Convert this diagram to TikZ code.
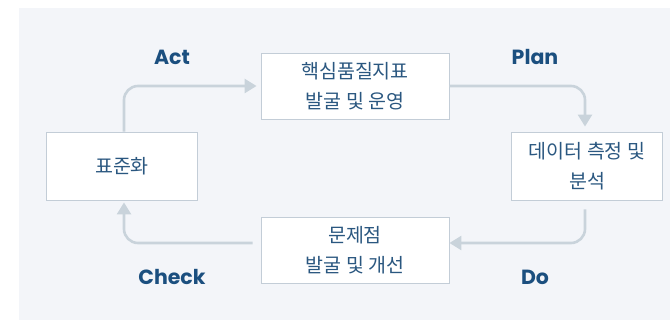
\documentclass[tikz,border=0pt]{standalone}
\usepackage{fontspec}
\usepackage{xcolor}
\usepackage{tikz}
\usetikzlibrary{arrows.meta,positioning}
\newfontfamily\kfont{Noto Sans CJK KR}
\newfontfamily\phasefont{Poppins}
\definecolor{bgcol}{HTML}{F3F5F9}
\definecolor{edgecol}{HTML}{C3CDD7}
\definecolor{arrowcol}{HTML}{C9D3DB}
\definecolor{textcol}{HTML}{2A5780}
\definecolor{phasecol}{HTML}{1B4F7F}

\begin{document}
\begin{tikzpicture}[
  x=1pt, y=-1pt,
  stage/.style={draw=edgecol, line width=0.9pt, fill=white, rectangle, align=center, inner sep=0pt, text=textcol, font=\kfont\fontsize{19.5}{30}\selectfont},
  arrow/.style={-{Triangle[length=12pt,width=14pt]}, draw=arrowcol, line width=2.6pt, rounded corners=14pt},
  phase/.style={text=phasecol, font=\phasefont\bfseries\fontsize{20.5}{24}\selectfont}
]
\useasboundingbox (0,0) rectangle (670,320);
\fill[bgcol] (19,8) rectangle (670,320);

\node[stage, minimum width=188pt, minimum height=66pt] (kpi) at (355,86) {핵심품질지표\\발굴 및 운영};
\node[stage, minimum width=151pt, minimum height=68pt] (measure) at (587,166) {데이터 측정 및\\분석};
\node[stage, minimum width=188pt, minimum height=66pt] (improve) at (355,250) {문제점\\발굴 및 개선};
\node[stage, minimum width=151pt, minimum height=68pt] (std) at (122,166) {표준화};

\node[phase] (act) at (172,57) {Act};
\node[phase] (plan) at (535,57) {Plan};
\node[phase] (do) at (535,277) {Do};
\node[phase] (check) at (172,277) {Check};

\draw[arrow, shorten >=4pt] ([xshift=2pt]std.north) |- (kpi.west);
\draw[arrow, shorten >=5pt] (kpi.east) -| ([xshift=-2pt]measure.north);
\draw[arrow, shorten <=9pt] ([xshift=-2pt]measure.south) |- ([yshift=7pt]improve.east);
\draw[arrow, shorten <=8pt, shorten >=2pt] ([yshift=7pt]improve.west) -| ([xshift=2pt]std.south);
\end{tikzpicture}
\end{document}
